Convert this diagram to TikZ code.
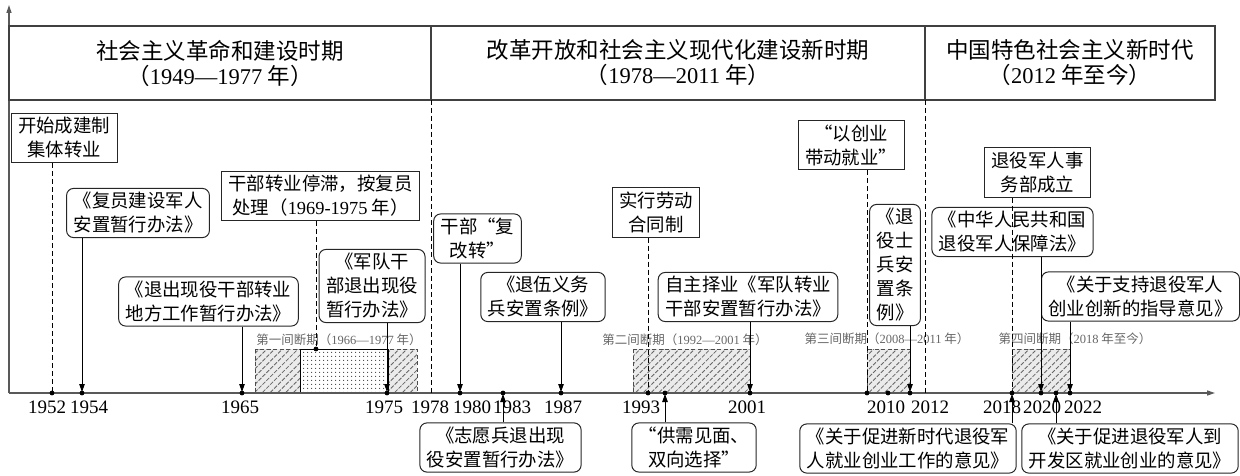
\documentclass[tikz,border=0pt]{standalone}
\usepackage{fontspec}
\setmainfont{Liberation Serif}
\newfontfamily\cjk{Noto Sans CJK SC}
\usepackage{tikz}
\usetikzlibrary{calc,arrows.meta,patterns.meta}
\newcommand\yr[1]{{\rmfamily #1}}
\newcommand\yeardot[2]{
  \coordinate (#1) at ( #2, 393 );
  \fill (#1) circle (2.4);
}
\newcommand\yearlabel[2]{
  \node[yearlbl] (l#2) at ( #1, 407.5 ) {#2};
}
\newcommand\gapbox[4]{
  \draw[hatch] ( #1, #2 ) rectangle ( #3, #4 );
}

\begin{document}
\begin{tikzpicture}[x=1pt,y=-1pt,
    period/.style={draw=black!75,line width=1.3pt,outer sep=0pt,inner sep=0pt,minimum height=74pt,align=center,font=\cjk\fontsize{22.5}{25}\selectfont},
    event/.style={draw=black!85,line width=1pt,align=center,inner xsep=7pt,inner ysep=4pt,font=\cjk\fontsize{18.4}{24}\selectfont},
    policy/.style={event,rounded corners=7pt},
    gaplbl/.style={inner sep=0pt,text=black!60,font=\cjk\fontsize{12.5}{14}\selectfont},
    yearlbl/.style={inner sep=0pt,font=\fontsize{19}{20}\selectfont},
    hatch/.style={draw=black!70,dash pattern=on 4pt off 2.5pt,line width=0.8pt,preaction={fill=black!8},pattern={Lines[angle=45,distance=5.5pt,line width=0.85pt]},pattern color=black!60},
    axis/.style={draw=black!65,line width=1.4pt,-{Triangle[length=8pt,width=5pt]}},
    link/.style={line width=0.9pt,-{Triangle[length=8pt,width=5.5pt]},shorten >=1pt},
    guide/.style={line width=0.9pt,dash pattern=on 5pt off 3pt}]
      \useasboundingbox (0,0) rectangle (1240,476);

      \gapbox{255}{349}{417}{393}
      \gapbox{633}{349}{750}{393}
      \gapbox{867}{349}{910}{393}
      \gapbox{1012}{349}{1070}{393}
      \fill[white] (300,349) rectangle (388,393);
      \fill[pattern={Dots[distance=4pt,radius=0.7pt]},pattern color=black!75] (300,349) rectangle (388,393);
      \draw[line width=0.9pt] (300,349) rectangle (388,393);

      \node[gaplbl] (g1) at (339,340) {第一间断期（\yr{1966—1977} 年）};
      \node[gaplbl] (g2) at (685,340) {第二间断期（\yr{1992—2001} 年）};
      \node[gaplbl] (g3) at (887,339) {第三间断期（\yr{2008—2011} 年）};
      \node[gaplbl] (g4) at (1075,339) {第四间断期（\yr{2018} 年至今）};

      \coordinate (o) at (9,393);
      \coordinate (xend) at (1215,393);
      \coordinate (yend) at (9,5);
      \draw[axis] (o) -- (xend);
      \draw[axis] (o) -- (yend);

      \node[period,minimum width=422pt] (p1) at (220,63) {社会主义革命和建设时期\\（\yr{1949—1977} 年）};
      \node[period,minimum width=494pt] (p2) at (678,63) {改革开放和社会主义现代化建设新时期\\（\yr{1978—2011} 年）};
      \node[period,minimum width=290pt] (p3) at (1070,63) {中国特色社会主义新时代\\（\yr{2012} 年至今）};

      \coordinate (t1978) at (431,393);
      \coordinate (t2012) at (925,393);
      \coordinate (s1969) at (316,349);
      \fill (s1969) circle (2.4);
      \yeardot{t1952}{52}
      \yeardot{t1954}{82}
      \yeardot{t1965}{242}
      \yeardot{t1975}{387}
      \yeardot{t1980}{460}
      \yeardot{t1983}{503}
      \yeardot{t1987}{561}
      \yeardot{t1993}{648}
      \yeardot{t1994}{665}
      \yeardot{t2001}{750}
      \yeardot{t2008}{867}
      \yeardot{t2010}{888}
      \yeardot{t2011}{910}
      \yeardot{t2018}{1012}
      \yeardot{t2020}{1041}
      \yeardot{t2021}{1056}
      \yeardot{t2019}{1070}

      \yearlabel{47}{1952}
      \yearlabel{89}{1954}
      \yearlabel{240}{1965}
      \yearlabel{384}{1975}
      \yearlabel{430}{1978}
      \yearlabel{472}{1980}
      \yearlabel{512}{1983}
      \yearlabel{563}{1987}
      \yearlabel{641}{1993}
      \yearlabel{747}{2001}
      \yearlabel{886}{2010}
      \yearlabel{930}{2012}
      \yearlabel{1002}{2018}
      \yearlabel{1042}{2020}
      \yearlabel{1083}{2022}

      \node[event] (b1952) at (64,138) {开始成建制\\集体转业};
      \node[policy] (b1954) at (138,213) {《复员建设军人\\安置暂行办法》};
      \node[event] (bstall) at (320.5,196) {干部转业停滞，按复员\\处理（\yr{1969-1975} 年）};
      \node[policy] (b1965) at (208.5,301.5) {《退出现役干部转业\\地方工作暂行办法》};
      \node[policy] (b1975) at (372,286) {《军队干\\部退出现役\\暂行办法》};
      \node[policy] (b1980) at (477.5,238.5) {干部“复\\改转”};
      \node[policy] (b1987) at (543,297) {《退伍义务\\兵安置条例》};
      \node[event] (b1993) at (656,212.5) {实行劳动\\合同制};
      \node[policy] (b2001) at (748,297) {自主择业《军队转业\\干部安置暂行办法》};
      \node[policy] (b1983) at (500.5,447.5) {《志愿兵退出现\\役安置暂行办法》};
      \node[policy] (b1994) at (694,447.5) {“供需见面、\\双向选择”};
      \node[event] (b2008) at (851,145) {“以创业\\带动就业”};
      \node[policy] (b2011) at (895,265) {《退\\役士\\兵安\\置条\\例》};
      \node[event] (b2018) at (1037.5,172.5) {退役军人事\\务部成立};
      \node[policy] (b2020) at (1012.5,232) {《中华人民共和国\\退役军人保障法》};
      \node[policy] (b2019) at (1140.5,296.5) {《关于支持退役军人\\创业创新的指导意见》};
      \node[policy] (b2018b) at (908,448.5) {《关于促进新时代退役军\\人就业创业工作的意见》};
      \node[policy] (b2021) at (1130,448.5) {《关于促进退役军人到\\开发区就业创业的意见》};

      \draw[guide] (p2.south west) -- (t1978);
      \draw[guide] (p3.south west) -- (t2012);
      \draw[guide] (b1952.south -| t1952) -- (t1952);
      \draw[guide] (bstall.south -| s1969) -- (s1969);
      \draw[guide] (b1993.south -| t1993) -- (t1993);
      \draw[guide] (b2008.south -| t2008) -- (t2008);
      \draw[guide] (b2018.south -| t2018) -- (t2018);

      \draw[link] (b1954.south -| t1954) -- (t1954);
      \draw[link] (b1965.south -| t1965) -- (t1965);
      \draw[link] (b1975.south -| t1975) -- (t1975);
      \draw[link] (b1980.south -| t1980) -- (t1980);
      \draw[link] (b1987.south -| t1987) -- (t1987);
      \draw[link] (b2001.south -| t2001) -- (t2001);
      \draw[link] (b2011.south -| t2011) -- (t2011);
      \draw[link] (b2020.south -| t2020) -- (t2020);
      \draw[link] (b2019.south -| t2019) -- (t2019);
      \draw[link] (b1983.north -| t1983) -- (t1983);
      \draw[link] (b1994.north -| t1994) -- (t1994);
      \draw[link] (b2018b.north -| t2018) -- (t2018);
      \draw[link] (b2021.north -| t2021) -- (t2021);

    \end{tikzpicture}
\end{document}
